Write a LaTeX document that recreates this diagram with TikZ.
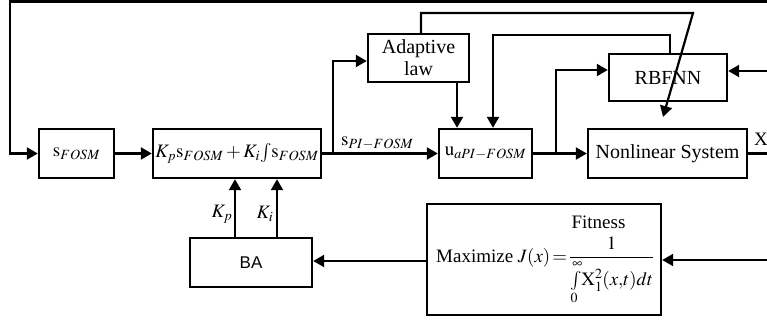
\documentclass[tikz,border=0pt]{standalone}
\usepackage{amsmath}
\usepackage{mathptmx}
\usepackage{fontspec}
\setmainfont{Liberation Serif}
\setsansfont{Liberation Sans}
\usetikzlibrary{arrows.meta}
\begin{document}
\begin{tikzpicture}[x=1pt,y=-1pt,
  blk/.style={draw, line width=2.4pt, inner sep=0pt, align=center, font=\fontsize{20}{22}\selectfont},
  mth/.style={font=\fontsize{19}{22}\selectfont},
  arr/.style={line width=2.2pt, -{Triangle[length=11pt,width=12pt]}},
  ln/.style={line width=2.2pt}]
\useasboundingbox (0,0) rectangle (767,320);
% blocks
\node[blk, mth, minimum width=75pt, minimum height=49pt] (sf) at (76.5,153.5) {$\mathrm{s}_{FOSM}$};
\node[blk, mth, minimum width=168pt, minimum height=49pt] (kb) at (237,153.5) {$K_p\mathrm{s}_{FOSM}+K_i\!\int\!\mathrm{s}_{FOSM}$};
\node[blk, minimum width=101pt, minimum height=48pt] (ad) at (418.5,58) {Adaptive\\law};
\node[blk, mth, minimum width=93pt, minimum height=49pt] (ub) at (485.5,153.5) {$\mathrm{u}_{aPI-FOSM}$};
\node[blk, minimum width=118pt, minimum height=47pt] (rb) at (668,77.5) {RBFNN};
\node[blk, minimum width=159pt, minimum height=49pt] (ns) at (667.5,153.5) {Nonlinear System};
\node[blk, font=\sffamily\fontsize{17}{20}\selectfont, minimum width=122pt, minimum height=49pt] (ba) at (251,262.5) {BA};
\node[blk, minimum width=234pt, minimum height=111pt] (mx) at (544,259.5) {};
\node[anchor=base west, inner sep=0pt, font=\fontsize{19}{22}\selectfont] (fx) at (436,262)
  {Maximize {\fontsize{18.8}{21}\selectfont$J(x)\!=\!\dfrac{1}{\int\limits_0^\infty\! \mathrm{X}_1^2(x{,}t)dt}$}};
\node[anchor=base, inner sep=0pt, font=\fontsize{19}{22}\selectfont] (fit) at (598.5,229) {Fitness};
% labels
\node[inner sep=0pt, mth, anchor=base west] (lspi) at (341,146) {$\mathrm{s}_{PI-FOSM}$};
\node[inner sep=0pt, mth, anchor=base west] (lx) at (754,146) {X};
\node[inner sep=0pt, mth] (lkp) at (222,214) {$K_p$};
\node[inner sep=0pt, mth] (lki) at (265,214) {$K_i$};
% coordinates
\coordinate (tr) at (767,1.5);
\coordinate (tl) at (10,1.5);
\coordinate (b1) at (333,153.5);
\coordinate (c421) at (421,0);
\coordinate (c457) at (457,0);
\coordinate (c493) at (493,0);
\coordinate (c670) at (670,0);
\coordinate (c235) at (235,0);
\coordinate (c277) at (277,0);
\coordinate (y61) at (0,61);
\coordinate (y70) at (0,70);
\coordinate (y261) at (0,261);
\coordinate (b2) at (556,153.5);
\coordinate (adtop) at (421,13);
\coordinate (adtr) at (693,13);
\coordinate (diag) at (663,117);
\coordinate (rbtop) at (670,35);
\coordinate (out) at (767,153.5);
\coordinate (inrb) at (767,71);
\coordinate (inmx) at (767,260);
% connectors
\draw[arr] (tr) -- (tl) |- (sf.west);
\draw[arr] (sf.east) -- (kb.west);
\draw[arr] (kb.east) -- (ub.west);
\draw[arr] (b1) |- (ad.west |- y61);
\draw[arr] (ad.north -| c421) -- (adtop) -- (adtr) -- (diag);
\draw[arr] (ad.south -| c457) -- (ub.north -| c457);
\draw[arr] (rb.north -| c670) -- (rbtop) -| (ub.north -| c493);
\draw[arr] (ub.east) -- (ns.west);
\draw[arr] (b2) |- (rb.west |- y70);
\draw[ln] (ns.east) -- (out);
\draw[arr] (inrb) -- (rb.east |- inrb);
\draw[arr] (inmx) -- (mx.east |- inmx);
\draw[arr] (mx.west |- y261) -- (ba.east |- y261);
\draw[arr] (ba.north -| c235) -- (kb.south -| c235);
\draw[arr] (ba.north -| c277) -- (kb.south -| c277);
\end{tikzpicture}
\end{document}
